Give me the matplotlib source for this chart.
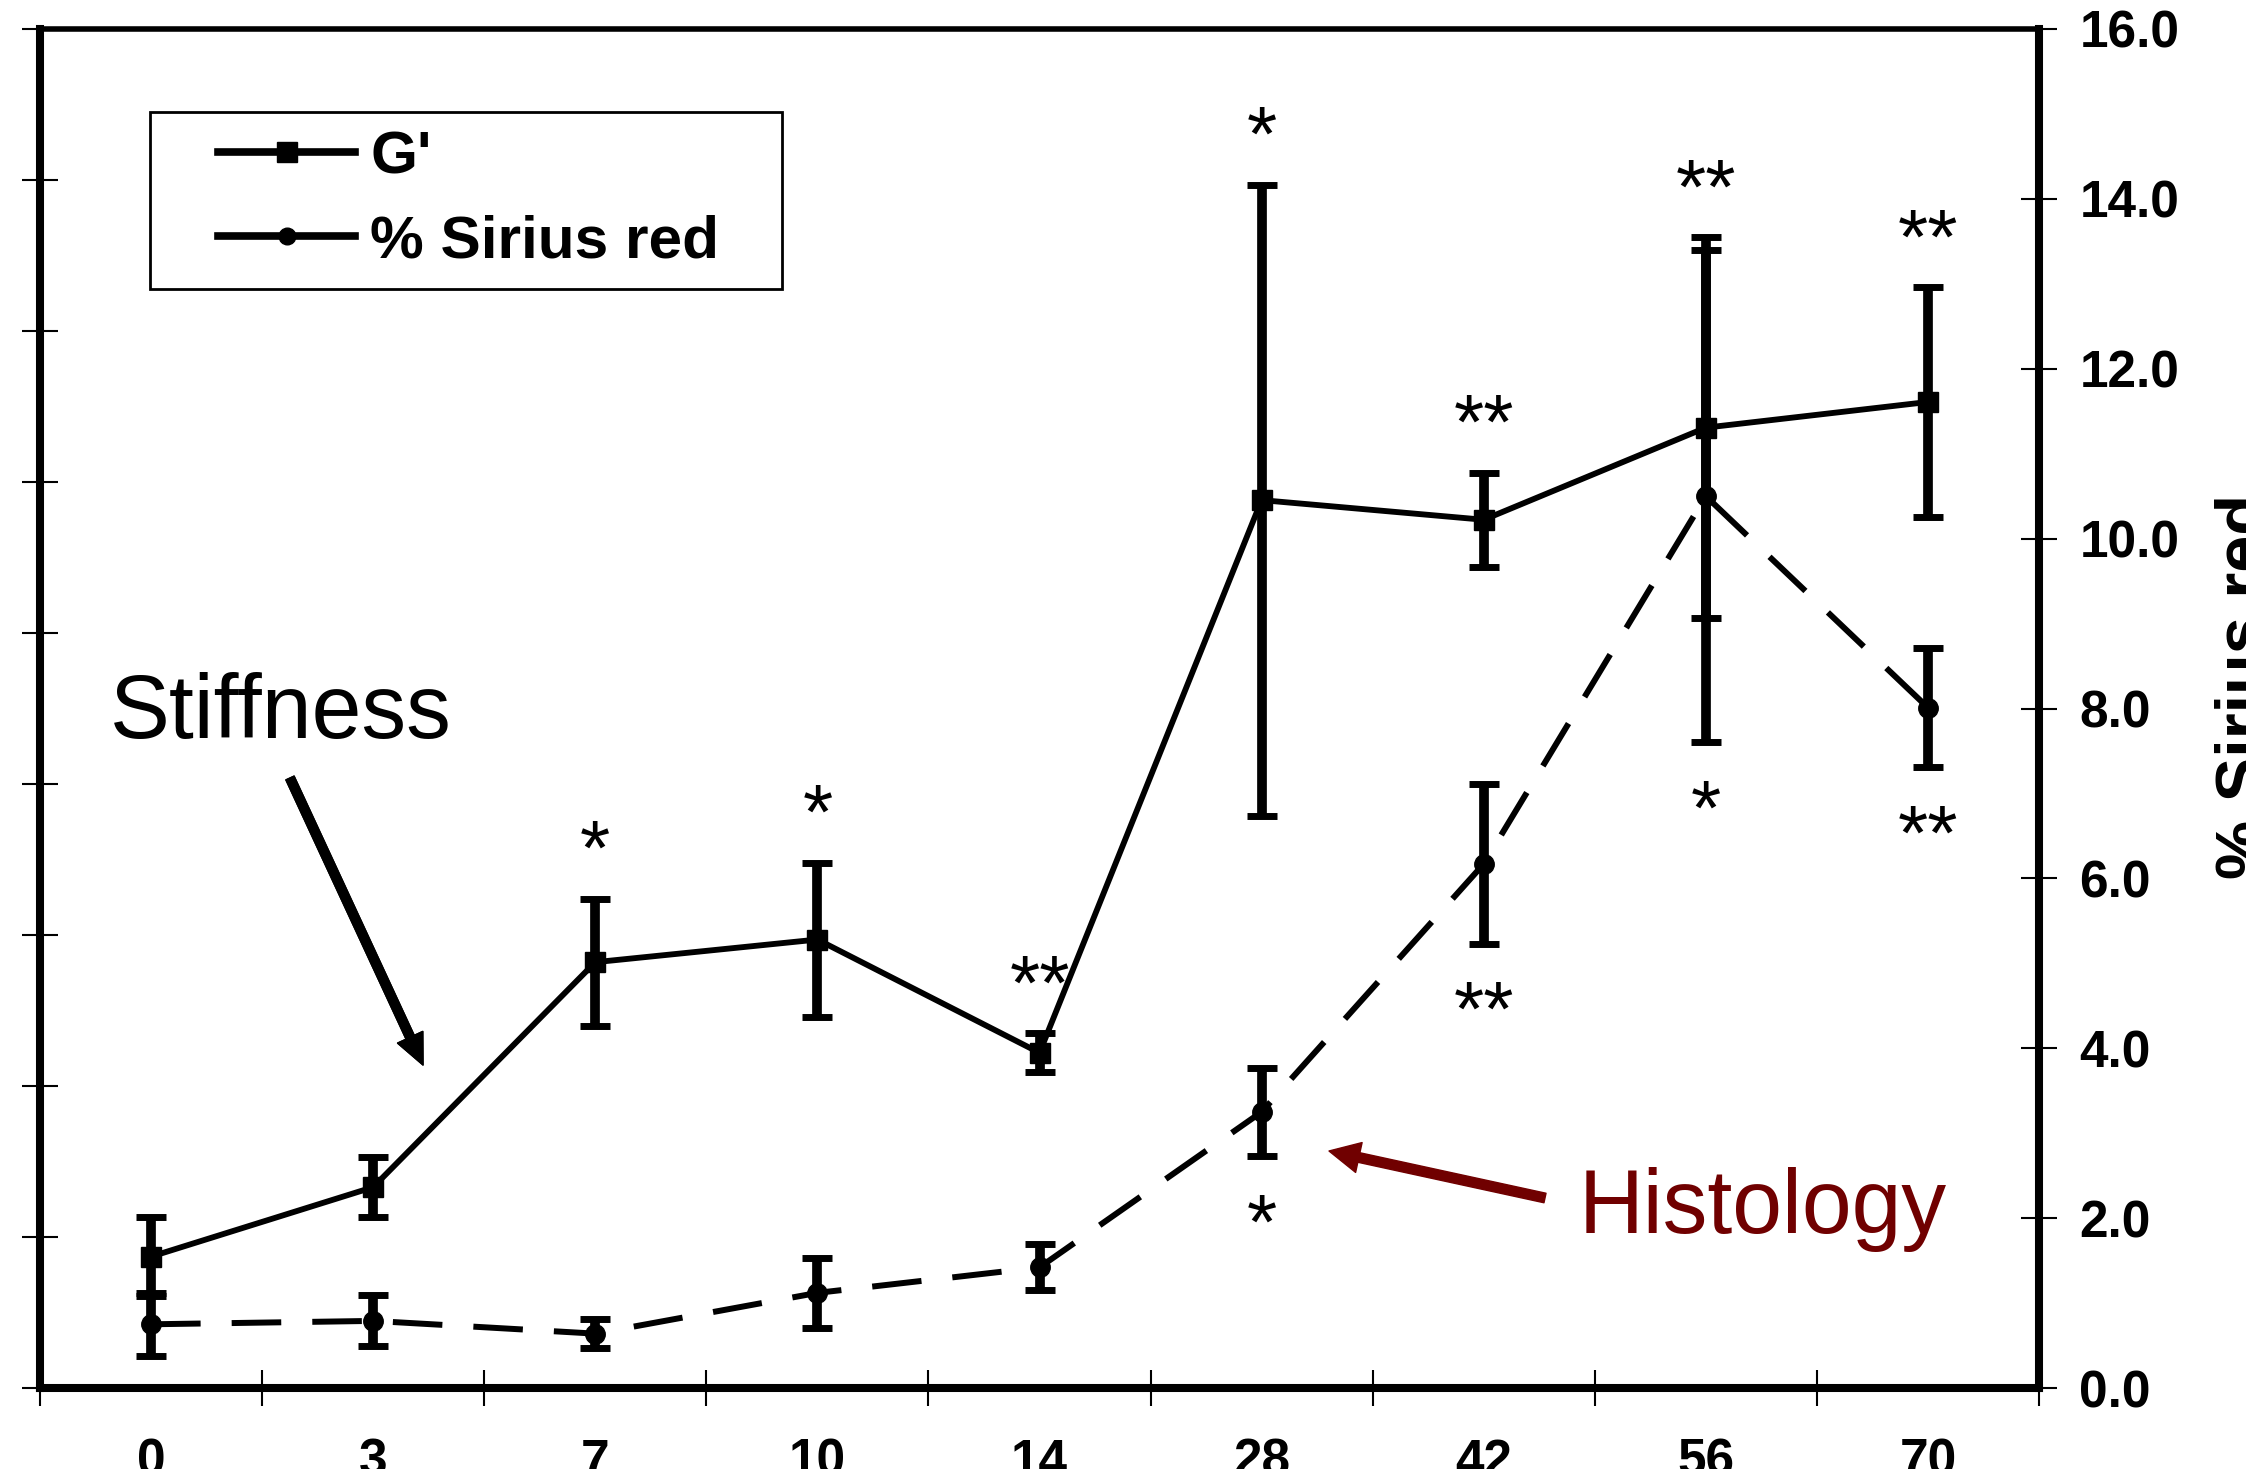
import matplotlib
matplotlib.use("Agg")
import matplotlib.pyplot as plt
from matplotlib.lines import Line2D
from matplotlib.patches import Rectangle
import numpy as np

plt.rcParams["font.family"] = ["Liberation Sans", "DejaVu Sans"]

# Time points (days) and measurements
days = ["0", "3", "7", "10", "14", "28", "42", "56", "70"]
g_prime = [0.87, 1.33, 2.82, 2.97, 2.22, 5.88, 5.75, 6.36, 6.53]
g_prime_err = [0.26, 0.20, 0.42, 0.51, 0.13, 2.09, 0.31, 1.26, 0.76]
sirius_red = [0.75, 0.79, 0.64, 1.12, 1.42, 3.25, 6.17, 10.50, 8.01]
sirius_red_err = [0.37, 0.30, 0.17, 0.41, 0.27, 0.52, 0.94, 2.90, 0.70]
g_prime_sig = ["", "", "*", "*", "**", "*", "**", "**", "**"]
sirius_red_sig = ["", "", "", "", "", "*", "**", "*", "**"]
right_ticks = [0, 2, 4, 6, 8, 10, 12, 14, 16]

W, H = 2246, 1469
fig = plt.figure(figsize=(W / 100, H / 100), dpi=100)
ax1 = fig.add_axes([40 / W, 1 - 1388 / H, 1999 / W, 1359 / H])
ax2 = ax1.twinx()

x = np.arange(len(days))
err_style = dict(color="black", elinewidth=7, capsize=10.8, capthick=5)

ax1.errorbar(x, g_prime, yerr=g_prime_err, lw=4.2, marker="s", ms=14,
             **err_style, zorder=3)
ax2.errorbar(x, sirius_red, yerr=sirius_red_err, lw=4.3,
             ls=(0, (8.3, 5.2)), marker="o", ms=14, **err_style, zorder=3)

ax1.set_xlim(-0.5, len(days) - 0.5)
ax1.set_ylim(0, 9)
ax2.set_ylim(0, 16)

# category boundaries carry the tick marks, centres carry the labels
ax1.set_xticks(np.arange(-0.5, len(days), 1.0))
ax1.set_xticklabels([])
ax1.set_xticks(x, minor=True)
ax1.set_xticklabels(days, minor=True)
ax1.tick_params(axis="x", which="major", direction="inout", length=26, width=1.5)
ax1.tick_params(axis="x", which="minor", length=0, pad=36, labelsize=37)
for lab in ax1.get_xticklabels(minor=True):
    lab.set_fontweight("bold")

ax1.set_yticks(np.arange(0, 10, 1))
ax1.tick_params(axis="y", direction="inout", length=26, width=1.5, labelleft=False)

ax2.set_yticks(right_ticks)
ax2.set_yticklabels([f"{v:.1f}" for v in right_ticks])
ax2.tick_params(axis="y", direction="inout", length=26, width=1.5, pad=16,
                labelsize=37)
for lab in ax2.get_yticklabels():
    lab.set_fontweight("bold")

for s in ("left", "bottom"):
    ax1.spines[s].set_linewidth(5.8)
ax1.spines["top"].set_linewidth(4.0)
ax1.spines["right"].set_visible(False)
for s in ("left", "top", "bottom"):
    ax2.spines[s].set_visible(False)
ax2.spines["right"].set_linewidth(5.8)

ax2.set_ylabel("% Sirius red", fontsize=48, fontweight="bold")
ax2.yaxis.set_label_coords(1.088, 0.516)

# significance marks above G' and below Sirius red error bars
for i in range(len(days)):
    if g_prime_sig[i]:
        ax1.annotate(g_prime_sig[i], xy=(x[i], g_prime[i] + g_prime_err[i]),
                     xytext=(0, 24), textcoords="offset pixels",
                     ha="center", va="baseline", fontsize=56)
    if sirius_red_sig[i]:
        ax2.annotate(sirius_red_sig[i], xy=(x[i], sirius_red[i] - sirius_red_err[i]),
                     xytext=(0, -92), textcoords="offset pixels",
                     ha="center", va="baseline", fontsize=56)

# legend
handles = [Line2D([], [], color="black", lw=5.5, marker="s", ms=14),
           Line2D([], [], color="black", lw=5.5, marker="o", ms=12)]
fig.legend(handles, ["G'", "% Sirius red"], loc="upper left",
           bbox_to_anchor=(218 / W, 1 - 130 / H), bbox_transform=fig.transFigure,
           frameon=False, borderpad=0, borderaxespad=0, handlelength=2.27,
           handletextpad=0.25, labelspacing=0.48,
           prop={"weight": "bold", "size": 43.5})
fig.add_artist(Rectangle((150 / W, 1 - 289 / H), 632 / W, 177 / H,
                         transform=fig.transFigure, fill=False, lw=2,
                         ec="black"))

# annotations
fig.text(110 / W, 1 - 738 / H, "Stiffness", fontsize=64.5, va="baseline")
fig.add_artist(plt.annotate("", xy=(423, H - 1065), xytext=(290, H - 778),
                            xycoords="figure pixels", textcoords="figure pixels",
                            arrowprops=dict(width=6.5, headwidth=20, headlength=22,
                                            color="black", shrink=0)))
histo_color = "#700000"
fig.text(1579 / W, 1 - 1233 / H, "Histology", fontsize=64.5, va="baseline",
         color=histo_color)
ax1.annotate("", xy=(1329, H - 1151), xytext=(1545, H - 1198),
             xycoords="figure pixels", textcoords="figure pixels",
             arrowprops=dict(width=7.0, headwidth=22, headlength=22,
                             color=histo_color, shrink=0))

fig.savefig("out.png", dpi=100)
